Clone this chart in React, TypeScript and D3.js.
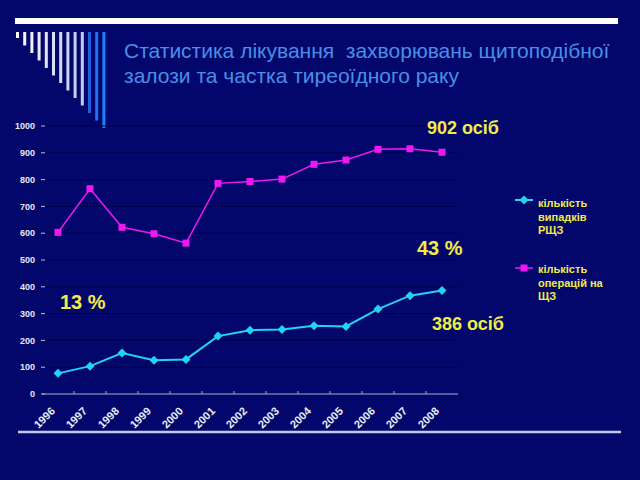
import React from "react";
import * as d3 from "d3";

const years = ["1996","1997","1998","1999","2000","2001","2002","2003","2004","2005","2006","2007","2008"];
const cancerCases = [77, 104, 153, 126, 129, 216, 238, 241, 255, 252, 317, 367, 386];
const thyroidOps = [603, 766, 622, 598, 563, 786, 793, 802, 857, 873, 913, 915, 902];
const yTicks = [0, 100, 200, 300, 400, 500, 600, 700, 800, 900, 1000];
const titleLines = ["Статистика лікування  захворювань щитоподібної", "залози та частка тиреоїдного раку"];
const legendCases = ["кількість", "випадків", "РЩЗ"];
const legendOps = ["кількість", "операцій на", "ЩЗ"];
const annotations = [
  { text: "902 осіб", x: 427, y: 134, size: 18 },
  { text: "43 %", x: 417, y: 255, size: 20 },
  { text: "13 %", x: 60, y: 309, size: 20 },
  { text: "386 осіб", x: 432, y: 330, size: 18 },
];

const BG = "#03076c";
const YELLOW = "#f2ec48";
const CYAN = "#22d4f0";
const MAGENTA = "#f018f0";

export default function App() {
  const x = d3.scaleBand<string>().domain(years).range([42, 458]);
  const y = d3.scaleLinear().domain([0, 1000]).range([394, 126]);
  const cx = (yr: string) => (x(yr) as number) + x.bandwidth() / 2;
  const lineGen = d3.line<number>().x((_, i) => cx(years[i])).y((v) => y(v));

  const bars = d3.range(13);
  const barColor = (i: number) => {
    if (i >= 10) return ["#1f5fe0", "#2572ee", "#1a84f6"][i - 10];
    return d3.interpolateRgb("#fbfbf4", "#c4ccf0")(i / 9);
  };

  const diamond = "M0,-4.5L4.5,0L0,4.5L-4.5,0Z";

  return (
    <svg width={640} height={480} style={{ position: "fixed", left: 0, top: 0 }} fontFamily="'Liberation Sans', Arial, sans-serif">
      <rect x={0} y={0} width={640} height={480} fill={BG} />
      {/* decoration */}
      <rect x={15} y={18} width={603} height={6} fill="#ffffff" />
      {bars.map((i) => (
        <rect key={i} x={16 + i * 7.2} y={32} width={3} height={6 + i * 7.5} fill={barColor(i)} />
      ))}
      <line x1={18} x2={621} y1={432} y2={432} stroke="#c4c8f0" strokeWidth={2.5} />
      {/* title */}
      {titleLines.map((t, i) => (
        <text key={i} x={124} y={58 + i * 25} fontSize={21} fill="#4a8ee8" style={{ whiteSpace: "pre" }}>{t}</text>
      ))}
      {/* grid */}
      {yTicks.map((t) => (
        <g key={t}>
          {t > 0 && <line x1={46} x2={458} y1={y(t)} y2={y(t)} stroke="#00004e" strokeWidth={1.2} />}
          <line x1={41} x2={45} y1={y(t)} y2={y(t)} stroke="#b8bcd8" strokeWidth={1} />
          <text x={35} y={y(t)} dy="0.35em" textAnchor="end" fontSize={9} fontWeight="bold" fill="#e8e8f0">{t}</text>
        </g>
      ))}
      {/* x axis */}
      <line x1={42} x2={458} y1={y(0)} y2={y(0)} stroke="#a8acd0" strokeWidth={1.2} />
      {years.slice(1).map((yr) => (
        <line key={yr} x1={x(yr) as number} x2={x(yr) as number} y1={y(0)} y2={y(0) - 3} stroke="#a8acd0" strokeWidth={1} />
      ))}
      {years.map((yr) => (
        <text key={yr} transform={`translate(${cx(yr) - 5},${409}) rotate(-45)`} textAnchor="end" dy="0.35em" fontSize={11} fontWeight="bold" fill="#ececf4">{yr}</text>
      ))}
      {/* series */}
      <path d={lineGen(thyroidOps) as string} fill="none" stroke={MAGENTA} strokeWidth={1.5} />
      {thyroidOps.map((v, i) => (
        <rect key={i} x={cx(years[i]) - 3.5} y={y(v) - 3.5} width={7} height={7} fill={MAGENTA} />
      ))}
      <path d={lineGen(cancerCases) as string} fill="none" stroke={CYAN} strokeWidth={2} />
      {cancerCases.map((v, i) => (
        <path key={i} d={diamond} transform={`translate(${cx(years[i])},${y(v)})`} fill={CYAN} />
      ))}
      {/* annotations */}
      {annotations.map((a) => (
        <text key={a.text} x={a.x} y={a.y} fontSize={a.size} fontWeight="bold" fill={YELLOW}>{a.text}</text>
      ))}
      {/* legend */}
      <line x1={515} x2={533} y1={200} y2={200} stroke={CYAN} strokeWidth={2} />
      <path d={diamond} transform="translate(524,200)" fill={CYAN} />
      {legendCases.map((t, i) => (
        <text key={i} x={538} y={207 + i * 13.5} fontSize={11} fontWeight="bold" fill={YELLOW}>{t}</text>
      ))}
      <line x1={515} x2={533} y1={268} y2={268} stroke={MAGENTA} strokeWidth={1.5} />
      <rect x={520.5} y={264.5} width={7} height={7} fill={MAGENTA} />
      {legendOps.map((t, i) => (
        <text key={i} x={538} y={273 + i * 13.5} fontSize={11} fontWeight="bold" fill={YELLOW}>{t}</text>
      ))}
    </svg>
  );
}
